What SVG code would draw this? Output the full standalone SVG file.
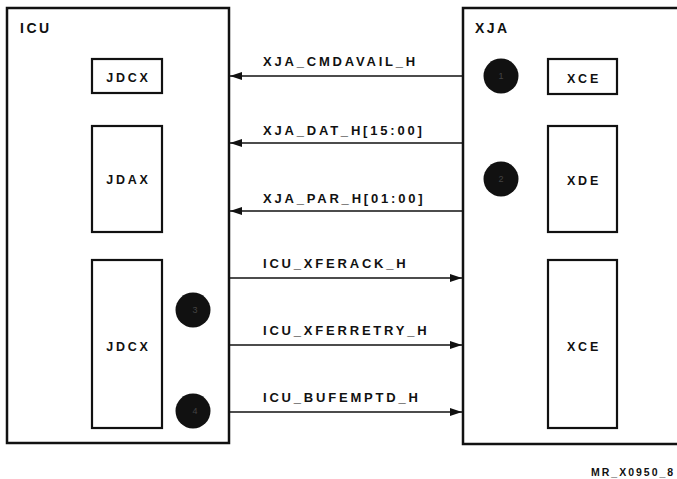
<svg xmlns="http://www.w3.org/2000/svg" width="677" height="479" viewBox="0 0 677 479">
<style>
.outer{fill:none;stroke:#111;stroke-width:2.5}
.inner{fill:#fff;stroke:#111;stroke-width:2.2}
.t{font-family:"Liberation Sans",Arial,sans-serif;font-weight:bold;fill:#111}
.title{font-size:14px;letter-spacing:2.5px}
.lbl{font-size:12.5px;text-anchor:middle;letter-spacing:2.8px}
.sig{font-size:13px;letter-spacing:2.8px}
.conn{stroke:#111;stroke-width:1.6;fill:none}
.dot{fill:#111}
.num{font-family:"Liberation Sans",Arial,sans-serif;font-size:9px;fill:#444;text-anchor:middle}
</style>
<defs>
<marker id="ah" markerWidth="12" markerHeight="8" refX="12" refY="4" orient="auto" markerUnits="userSpaceOnUse">
<path d="M0,0 L12,4 L0,8 Z" fill="#111"/>
</marker>
</defs>
<rect width="677" height="479" fill="#fff"/>
<g id="icu">
<rect class="outer" x="7" y="8" width="222" height="435"/>
<text class="t title" x="20" y="33">ICU</text>
</g>
<g id="xja">
<path class="outer" d="M680,8 L463,8 L463,444 L680,444"/>
<text class="t title" x="475" y="33">XJA</text>
</g>
<g id="jdcx1">
<rect class="inner" x="92" y="59" width="70" height="34"/>
<text class="t lbl" x="128.5" y="82">JDCX</text>
</g>
<g id="jdax">
<rect class="inner" x="92" y="126" width="70" height="106"/>
<text class="t lbl" x="128.5" y="184">JDAX</text>
</g>
<g id="jdcx2">
<rect class="inner" x="92" y="260" width="70" height="168"/>
<text class="t lbl" x="128.5" y="351">JDCX</text>
</g>
<g id="xce1">
<rect class="inner" x="548" y="59" width="69" height="35"/>
<text class="t lbl" x="584" y="83">XCE</text>
</g>
<g id="xde">
<rect class="inner" x="548" y="126" width="69" height="106"/>
<text class="t lbl" x="584" y="185">XDE</text>
</g>
<g id="xce2">
<rect class="inner" x="548" y="260" width="69" height="168"/>
<text class="t lbl" x="584" y="351">XCE</text>
</g>
<g id="m1"><circle class="dot" cx="501" cy="76" r="17.5"/><text class="num" x="501" y="79">1</text></g>
<g id="m2"><circle class="dot" cx="501" cy="179" r="17.5"/><text class="num" x="501" y="182">2</text></g>
<g id="m3"><circle class="dot" cx="193" cy="310" r="17.5"/><text class="num" x="195" y="313">3</text></g>
<g id="m4"><circle class="dot" cx="193" cy="411" r="17.5"/><text class="num" x="195" y="414">4</text></g>
<g id="connectors">
<line class="conn" x1="463" y1="76" x2="230" y2="76" marker-end="url(#ah)"/>
<line class="conn" x1="463" y1="143" x2="230" y2="143" marker-end="url(#ah)"/>
<line class="conn" x1="463" y1="211" x2="230" y2="211" marker-end="url(#ah)"/>
<line class="conn" x1="229" y1="278" x2="462" y2="278" marker-end="url(#ah)"/>
<line class="conn" x1="229" y1="345" x2="462" y2="345" marker-end="url(#ah)"/>
<line class="conn" x1="229" y1="412" x2="462" y2="412" marker-end="url(#ah)"/>
<text class="t sig" x="263" y="66">XJA_CMDAVAIL_H</text>
<text class="t sig" x="263" y="135">XJA_DAT_H[15:00]</text>
<text class="t sig" x="263" y="203">XJA_PAR_H[01:00]</text>
<text class="t sig" x="263" y="268">ICU_XFERACK_H</text>
<text class="t sig" x="263" y="335">ICU_XFERRETRY_H</text>
<text class="t sig" x="263" y="402">ICU_BUFEMPTD_H</text>
</g>
<text class="t" x="591" y="476" style="font-size:10.5px;letter-spacing:2px">MR_X0950_8</text>
</svg>
